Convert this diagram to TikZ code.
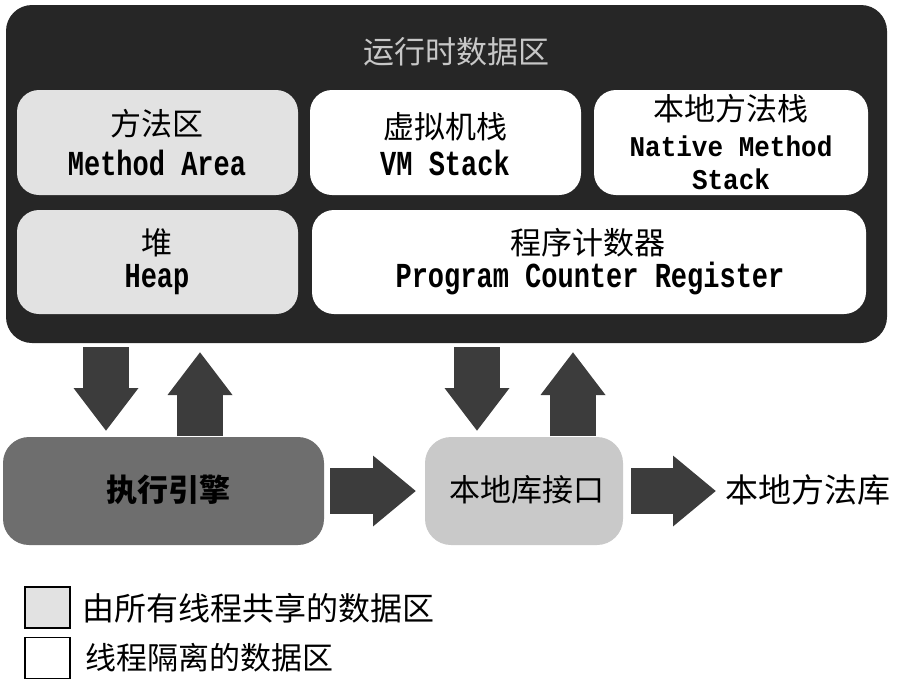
\documentclass[tikz,border=0pt]{standalone}
\usepackage{fontspec}
\usepackage{graphicx}
\newfontfamily\cjk{Noto Sans CJK SC}
\setmonofont{Liberation Mono}
\usetikzlibrary{arrows.meta}
\newcommand\tallen[1]{\scalebox{1}[1.3]{\ttfamily\bfseries #1}}
\newcommand\shorten[1]{\scalebox{1}[1.1]{\ttfamily\bfseries #1}}
\definecolor{darkbg}{HTML}{262626}
\definecolor{sharedfill}{HTML}{E2E2E2}
\definecolor{enginefill}{HTML}{6E6E6E}
\definecolor{ifacefill}{HTML}{C9C9C9}
\definecolor{arrowfill}{HTML}{3C3C3C}
\tikzset{
  areabox/.style={rectangle, rounded corners=22pt, inner sep=0pt, draw=none},
  cjklabel/.style={font=\cjk\fontsize{31}{33}\selectfont, inner sep=0pt, text=black},
  enlabel/.style={font=\fontsize{27}{30}\selectfont, inner sep=0pt, text=black, align=center},
  blockarrow/.style={draw=arrowfill, line width=46pt, -{Triangle[length=43pt,width=62pt]}, arrowfill},
  legendbox/.style={rectangle, draw=black, line width=1.8pt, inner sep=0pt, minimum width=45pt, minimum height=41pt}
}
\begin{document}
\begin{tikzpicture}[x=1pt,y=-1pt]
\useasboundingbox (0,0) rectangle (900,681);
% runtime data area
\node[areabox, fill=darkbg, rounded corners=26pt, minimum width=881pt, minimum height=338pt] (rt) at (446.5,174) {};
\node[font=\cjk\fontsize{31}{33}\selectfont, text=white!78!black, inner sep=0pt] (rttitle) at (456,52) {运行时数据区};
% inner areas
\node[areabox, fill=sharedfill, minimum width=281pt, minimum height=105pt] (ma) at (157.5,142.5) {};
\node[areabox, fill=white, minimum width=271pt, minimum height=105pt] (vm) at (445.5,142.5) {};
\node[areabox, fill=white, minimum width=274pt, minimum height=105pt] (nm) at (731,142.5) {};
\node[areabox, fill=sharedfill, minimum width=281pt, minimum height=104pt] (hp) at (157.5,262) {};
\node[areabox, fill=white, minimum width=554pt, minimum height=104pt] (pc) at (589,262) {};
% labels
\node[cjklabel] (mat) at (157,124) {方法区};
\node[enlabel] (mae) at (157,163) {\tallen{Method Area}};
\node[cjklabel] (vmt) at (445,127) {虚拟机栈};
\node[enlabel] (vme) at (445,163) {\tallen{VM Stack}};
\node[cjklabel] (nmt) at (731,109) {本地方法栈};
\node[enlabel, font=\fontsize{26}{28}\selectfont] (nme) at (731,146) {\shorten{Native Method}};
\node[enlabel, font=\fontsize{26}{28}\selectfont] (nme2) at (731,179) {\shorten{Stack}};
\node[cjklabel] (hpt) at (157,243) {堆};
\node[enlabel] (hpe) at (157,280) {\tallen{Heap}};
\node[cjklabel] (pct) at (588,243) {程序计数器};
\node[enlabel] (pce) at (590,278) {\tallen{Program Counter Register}};
% bottom row
\node[areabox, fill=enginefill, rounded corners=26pt, minimum width=321pt, minimum height=108pt] (ee) at (163.5,491) {};
\node[cjklabel, font=\cjk\bfseries\fontsize{31}{33}\selectfont] (eet) at (168,490) {执行引擎};
\node[areabox, fill=ifacefill, rounded corners=26pt, minimum width=198pt, minimum height=108pt] (ni) at (524,491) {};
\node[cjklabel] (nit) at (527,490) {本地库接口};
\node[cjklabel, font=\cjk\fontsize{33}{35}\selectfont] (nl) at (808,490) {本地方法库};
% arrow end points
\coordinate (d1s) at (106,347);
\coordinate (d1e) at (106,431);
\coordinate (u1s) at (200,436);
\coordinate (u1e) at (200,352);
\coordinate (d2s) at (477,347);
\coordinate (d2e) at (477,431);
\coordinate (u2s) at (573,436);
\coordinate (u2e) at (573,352);
\coordinate (r1s) at (330,491);
\coordinate (r1e) at (416,491);
\coordinate (r2s) at (631,491);
\coordinate (r2e) at (716,491);
\draw[blockarrow] (d1s) -- (d1e);
\draw[blockarrow] (u1s) -- (u1e);
\draw[blockarrow] (d2s) -- (d2e);
\draw[blockarrow] (u2s) -- (u2e);
\draw[blockarrow, -{Triangle[length=43pt,width=68pt]}] (r1s) -- (r1e);
\draw[blockarrow, -{Triangle[length=43pt,width=68pt]}] (r2s) -- (r2e);
% legend
\node[legendbox, fill=sharedfill] (lg1) at (47.5,607.5) {};
\node[cjklabel, anchor=west, font=\cjk\fontsize{32}{34}\selectfont] (lg1t) at (82,608) {由所有线程共享的数据区};
\node[legendbox, fill=white] (lg2) at (47.5,658) {};
\node[cjklabel, anchor=west] (lg2t) at (85,658) {线程隔离的数据区};
\end{tikzpicture}
\end{document}
